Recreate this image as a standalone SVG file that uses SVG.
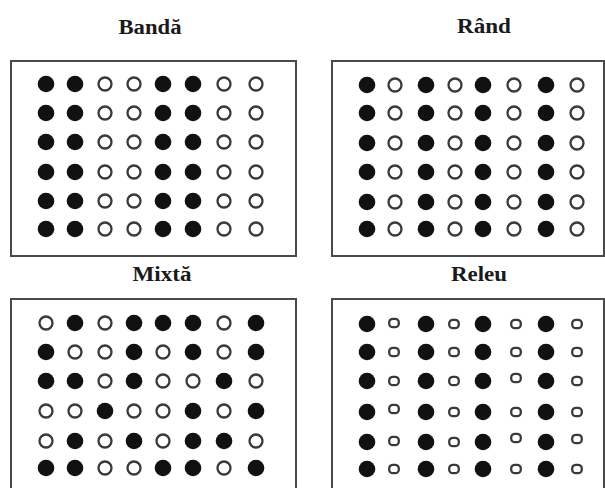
<svg xmlns="http://www.w3.org/2000/svg" xmlns:xlink="http://www.w3.org/1999/xlink" width="605" height="488" viewBox="0 0 605 488">
<style>
.box{fill:#fff;stroke:#4a4a4a;stroke-width:2}
.f{fill:#111}
.o{fill:none;stroke:#3a3a3a;stroke-width:2.3}
.t{font-family:"Liberation Serif","Times New Roman",serif;font-weight:bold;font-size:20px;fill:#1a1a1a;text-anchor:middle}
</style>
<defs>
<circle id="F" r="8.3" class="f"/>
<circle id="O" r="6.5" class="o"/>
<rect id="S" x="-4.8" y="-4.2" width="9.6" height="8.4" rx="3.8" class="o"/>
</defs>
<rect width="605" height="488" fill="#fff"/>
<g id="banda">
<text class="t" x="150" y="34" textLength="63" lengthAdjust="spacingAndGlyphs">Bandă</text>
<rect class="box" x="11" y="61" width="285" height="195"/>
<g id="banda-dots">
<use href="#F" x="46" y="84"/><use href="#F" x="75" y="84"/><use href="#O" x="105" y="84"/><use href="#O" x="134" y="84"/><use href="#F" x="163" y="84"/><use href="#F" x="193" y="84"/><use href="#O" x="224" y="84"/><use href="#O" x="256" y="84"/>
<use href="#F" x="46" y="113"/><use href="#F" x="75" y="113"/><use href="#O" x="105" y="113"/><use href="#O" x="134" y="113"/><use href="#F" x="163" y="113"/><use href="#F" x="193" y="113"/><use href="#O" x="224" y="113"/><use href="#O" x="256" y="113"/>
<use href="#F" x="46" y="142"/><use href="#F" x="75" y="142"/><use href="#O" x="105" y="142"/><use href="#O" x="134" y="142"/><use href="#F" x="163" y="142"/><use href="#F" x="193" y="142"/><use href="#O" x="224" y="142"/><use href="#O" x="256" y="142"/>
<use href="#F" x="46" y="172"/><use href="#F" x="75" y="172"/><use href="#O" x="105" y="172"/><use href="#O" x="134" y="172"/><use href="#F" x="163" y="172"/><use href="#F" x="193" y="172"/><use href="#O" x="224" y="172"/><use href="#O" x="256" y="172"/>
<use href="#F" x="46" y="201"/><use href="#F" x="75" y="201"/><use href="#O" x="105" y="201"/><use href="#O" x="134" y="201"/><use href="#F" x="163" y="201"/><use href="#F" x="193" y="201"/><use href="#O" x="224" y="201"/><use href="#O" x="256" y="201"/>
<use href="#F" x="46" y="229"/><use href="#F" x="75" y="229"/><use href="#O" x="105" y="229"/><use href="#O" x="134" y="229"/><use href="#F" x="163" y="229"/><use href="#F" x="193" y="229"/><use href="#O" x="224" y="229"/><use href="#O" x="256" y="229"/>
</g>
</g>
<g id="rand">
<text class="t" x="484" y="33" textLength="54" lengthAdjust="spacingAndGlyphs">Rând</text>
<rect class="box" x="332" y="61" width="272" height="195"/>
<g id="rand-dots">
<use href="#F" x="367" y="85"/><use href="#O" x="395" y="85"/><use href="#F" x="426" y="85"/><use href="#O" x="455" y="85"/><use href="#F" x="483" y="85"/><use href="#O" x="514" y="85"/><use href="#F" x="546" y="85"/><use href="#O" x="577" y="85"/>
<use href="#F" x="367" y="113"/><use href="#O" x="395" y="113"/><use href="#F" x="426" y="113"/><use href="#O" x="455" y="113"/><use href="#F" x="483" y="113"/><use href="#O" x="514" y="113"/><use href="#F" x="546" y="113"/><use href="#O" x="577" y="113"/>
<use href="#F" x="367" y="143"/><use href="#O" x="395" y="143"/><use href="#F" x="426" y="143"/><use href="#O" x="455" y="143"/><use href="#F" x="483" y="143"/><use href="#O" x="514" y="143"/><use href="#F" x="546" y="143"/><use href="#O" x="577" y="143"/>
<use href="#F" x="367" y="172"/><use href="#O" x="395" y="172"/><use href="#F" x="426" y="172"/><use href="#O" x="455" y="172"/><use href="#F" x="483" y="172"/><use href="#O" x="514" y="172"/><use href="#F" x="546" y="172"/><use href="#O" x="577" y="172"/>
<use href="#F" x="367" y="202"/><use href="#O" x="395" y="202"/><use href="#F" x="426" y="202"/><use href="#O" x="455" y="202"/><use href="#F" x="483" y="202"/><use href="#O" x="514" y="202"/><use href="#F" x="546" y="202"/><use href="#O" x="577" y="202"/>
<use href="#F" x="367" y="229"/><use href="#O" x="395" y="229"/><use href="#F" x="426" y="229"/><use href="#O" x="455" y="229"/><use href="#F" x="483" y="229"/><use href="#O" x="514" y="229"/><use href="#F" x="546" y="229"/><use href="#O" x="577" y="229"/>
</g>
</g>
<g id="mixta">
<text class="t" x="162" y="281" textLength="59" lengthAdjust="spacingAndGlyphs">Mixtă</text>
<rect class="box" x="11" y="299" width="285" height="200"/>
<g id="mixta-dots">
<use href="#O" x="46" y="323"/><use href="#F" x="75" y="323"/><use href="#O" x="105" y="323"/><use href="#F" x="134" y="323"/><use href="#F" x="163" y="323"/><use href="#F" x="193" y="323"/><use href="#O" x="224" y="323"/><use href="#F" x="256" y="323"/>
<use href="#F" x="46" y="352"/><use href="#O" x="75" y="352"/><use href="#O" x="105" y="352"/><use href="#F" x="134" y="352"/><use href="#O" x="163" y="352"/><use href="#F" x="193" y="352"/><use href="#O" x="224" y="352"/><use href="#F" x="256" y="352"/>
<use href="#F" x="46" y="381"/><use href="#F" x="75" y="381"/><use href="#O" x="105" y="381"/><use href="#F" x="134" y="381"/><use href="#O" x="163" y="381"/><use href="#O" x="193" y="381"/><use href="#F" x="224" y="381"/><use href="#O" x="256" y="381"/>
<use href="#O" x="46" y="411"/><use href="#O" x="75" y="411"/><use href="#F" x="105" y="411"/><use href="#O" x="134" y="411"/><use href="#O" x="163" y="411"/><use href="#F" x="193" y="411"/><use href="#O" x="224" y="411"/><use href="#F" x="256" y="411"/>
<use href="#O" x="46" y="441"/><use href="#F" x="75" y="441"/><use href="#O" x="105" y="441"/><use href="#F" x="134" y="441"/><use href="#O" x="163" y="441"/><use href="#F" x="193" y="441"/><use href="#F" x="224" y="441"/><use href="#O" x="256" y="441"/>
<use href="#F" x="46" y="468"/><use href="#F" x="75" y="468"/><use href="#O" x="105" y="468"/><use href="#O" x="134" y="468"/><use href="#F" x="163" y="468"/><use href="#F" x="193" y="468"/><use href="#O" x="224" y="468"/><use href="#F" x="256" y="468"/>
</g>
</g>
<g id="releu">
<text class="t" x="479" y="281" textLength="56" lengthAdjust="spacingAndGlyphs">Releu</text>
<rect class="box" x="332" y="299" width="272" height="200"/>
<g id="releu-dots">
<use href="#F" x="367" y="324"/><use href="#S" x="394" y="323"/><use href="#F" x="426" y="324"/><use href="#S" x="454" y="324"/><use href="#F" x="483" y="324"/><use href="#S" x="516" y="324"/><use href="#F" x="546" y="324"/><use href="#S" x="577" y="324"/>
<use href="#F" x="367" y="352"/><use href="#S" x="394" y="352"/><use href="#F" x="426" y="352"/><use href="#S" x="454" y="352"/><use href="#F" x="483" y="352"/><use href="#S" x="516" y="352"/><use href="#F" x="546" y="352"/><use href="#S" x="577" y="352"/>
<use href="#F" x="367" y="381"/><use href="#S" x="394" y="381"/><use href="#F" x="426" y="381"/><use href="#S" x="454" y="381"/><use href="#F" x="483" y="381"/><use href="#S" x="516" y="378"/><use href="#F" x="546" y="381"/><use href="#S" x="577" y="381"/>
<use href="#F" x="367" y="412"/><use href="#S" x="394" y="409"/><use href="#F" x="426" y="412"/><use href="#S" x="454" y="412"/><use href="#F" x="483" y="412"/><use href="#S" x="516" y="412"/><use href="#F" x="546" y="412"/><use href="#S" x="577" y="412"/>
<use href="#F" x="367" y="442"/><use href="#S" x="394" y="441"/><use href="#F" x="426" y="442"/><use href="#S" x="454" y="442"/><use href="#F" x="483" y="442"/><use href="#S" x="516" y="438"/><use href="#F" x="546" y="442"/><use href="#S" x="577" y="439"/>
<use href="#F" x="367" y="469"/><use href="#S" x="394" y="469"/><use href="#F" x="426" y="469"/><use href="#S" x="454" y="469"/><use href="#F" x="483" y="469"/><use href="#S" x="516" y="469"/><use href="#F" x="546" y="469"/><use href="#S" x="577" y="469"/>
</g>
</g>
</svg>
